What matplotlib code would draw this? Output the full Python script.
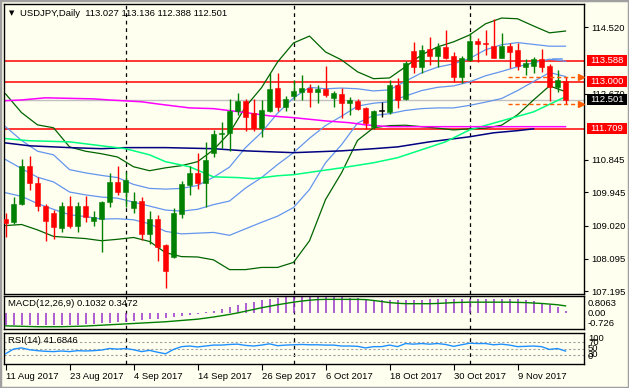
import matplotlib
matplotlib.use("Agg")
import matplotlib.pyplot as plt
from matplotlib.patches import Rectangle

plt.rcParams['font.family'] = ['Liberation Sans', 'DejaVu Sans']

# ===== data =====
opens = [109.21, 109.13, 109.63, 110.68, 110.21, 109.57, 109.38, 108.96, 109.57, 109.02,
         109.57, 109.16, 109.21, 109.68, 110.24, 109.96, 109.52, 109.71, 108.80, 109.21,
         108.47, 108.16, 109.35, 110.15, 110.48, 110.21, 111.04, 111.56, 111.59, 112.20,
         112.48, 112.14, 111.73, 112.20, 112.84, 112.31, 112.61, 112.73, 112.84, 112.73,
         112.81, 112.56, 112.67, 112.42, 112.48, 112.28, 111.76, 112.20, 112.17, 112.92,
         112.53, 113.86, 113.42, 113.92, 113.72, 113.97, 113.72, 113.14, 113.61, 114.14,
         114.08, 114.00, 113.67, 114.00, 113.89, 113.42, 113.44, 113.64, 113.44, 112.86,
         113.027]
highs = [109.38, 109.82, 110.87, 110.96, 110.37, 109.63, 109.46, 109.68, 109.85, 109.66,
         109.85, 109.41, 109.70, 110.48, 110.68, 110.51, 109.96, 109.82, 109.41, 109.30,
         108.52, 109.52, 110.26, 110.68, 111.04, 111.34, 111.67, 111.90, 112.53, 112.70,
         112.53, 112.53, 112.50, 113.25, 113.25, 112.61, 113.06, 113.20, 112.95, 112.92,
         113.44, 112.75, 112.84, 112.59, 112.53, 112.31, 112.23, 112.45, 113.06, 113.11,
         113.58, 114.11, 114.03, 114.25, 114.08, 114.44, 113.83, 113.72, 114.36, 114.22,
         114.44, 114.74, 114.36, 114.08, 114.08, 113.64, 113.69, 113.91, 113.50, 113.33,
         113.136]
lows = [108.71, 109.05, 109.60, 110.01, 109.43, 108.60, 108.66, 108.85, 108.94, 108.85,
        109.13, 109.02, 108.30, 109.54, 109.88, 109.54, 109.38, 108.63, 108.52, 108.05,
        107.30, 108.11, 109.24, 109.88, 110.04, 109.54, 110.93, 111.18, 111.09, 112.09,
        111.65, 111.65, 111.48, 112.17, 112.20, 112.20, 112.50, 112.50, 112.31, 112.42,
        112.59, 112.31, 112.01, 112.09, 112.23, 111.70, 111.70, 112.03, 112.12, 112.28,
        112.50, 113.25, 113.25, 113.47, 113.42, 113.64, 113.00, 112.97, 113.58, 113.55,
        113.75, 113.67, 113.67, 113.39, 113.33, 113.20, 113.25, 113.28, 112.48, 112.73,
        112.388]
closes = [109.10, 109.63, 110.68, 110.21, 109.57, 109.16, 108.99, 109.57, 109.02, 109.57,
          109.27, 109.27, 109.68, 110.24, 109.96, 110.29, 109.71, 108.80, 109.21, 108.44,
          107.77, 109.38, 110.18, 110.48, 110.21, 110.84, 111.56, 111.59, 112.20, 112.48,
          112.03, 111.73, 112.23, 112.81, 112.31, 112.53, 112.75, 112.84, 112.73, 112.81,
          112.64, 112.70, 112.42, 112.50, 112.26, 111.87, 112.20, 112.20, 112.92, 112.50,
          113.53, 113.42, 113.89, 113.72, 113.97, 113.67, 113.14, 113.67, 114.14, 114.05,
          114.05, 113.67, 114.00, 113.83, 113.44, 113.53, 113.64, 113.42, 112.86, 113.06,
          112.501]

# Bollinger bands (20, 2) dark green and (20, 1) blue, read every second bar
bb_idx = list(range(0, 71, 2))
bb_upper2 = [112.67, 112.15, 111.81, 111.73, 111.20, 111.08, 111.01, 110.92, 110.65, 110.54,
             110.62, 110.68, 110.79, 111.12, 111.59, 112.31, 112.84, 113.55, 114.08, 114.27,
             113.83, 113.61, 113.28, 113.09, 113.11, 113.42, 113.75, 113.97, 114.11, 114.30,
             114.61, 114.77, 114.75, 114.55, 114.36, 114.41]
bb_upper1 = [111.76, 111.38, 111.08, 110.98, 110.57, 110.48, 110.41, 110.35, 110.16, 110.05,
             110.03, 110.05, 110.13, 110.36, 110.64, 111.18, 111.60, 112.13, 112.56, 112.85,
             112.81, 112.83, 112.81, 112.75, 112.78, 113.02, 113.25, 113.41, 113.50, 113.65,
             113.89, 114.03, 114.09, 114.04, 113.99, 113.99]
bb_mid = [110.85, 110.60, 110.36, 110.23, 109.95, 109.87, 109.81, 109.78, 109.67, 109.56,
          109.45, 109.42, 109.47, 109.60, 109.70, 110.06, 110.35, 110.71, 111.04, 111.44,
          111.79, 112.05, 112.33, 112.41, 112.45, 112.61, 112.76, 112.85, 112.89, 113.00,
          113.17, 113.29, 113.42, 113.53, 113.63, 113.57]
bb_lower1 = [109.93, 109.83, 109.63, 109.47, 109.32, 109.27, 109.20, 109.21, 109.18, 109.07,
             108.86, 108.79, 108.81, 108.83, 108.75, 108.93, 109.11, 109.28, 109.52, 110.02,
             110.76, 111.26, 111.86, 112.07, 112.12, 112.21, 112.26, 112.28, 112.28, 112.35,
             112.44, 112.54, 112.76, 113.01, 113.26, 113.15]
bb_lower2 = [109.02, 109.05, 108.90, 108.72, 108.69, 108.66, 108.60, 108.64, 108.69, 108.58,
             108.27, 108.16, 108.15, 108.07, 107.80, 107.80, 107.86, 107.86, 108.00, 108.60,
             109.74, 110.48, 111.38, 111.73, 111.79, 111.80, 111.76, 111.72, 111.67, 111.70,
             111.72, 111.80, 112.09, 112.50, 112.89, 112.73]

# moving averages
navy_idx = [0, 3, 8, 12, 15, 20, 26, 30, 36, 42, 46, 49, 53, 58, 61, 64, 66]
navy_ma = [111.31, 111.23, 111.18, 111.15, 111.18, 111.18, 111.15, 111.09, 111.04, 111.09,
           111.15, 111.20, 111.34, 111.48, 111.59, 111.65, 111.70]
spring_idx = [0, 3, 8, 12, 15, 18, 20, 23, 26, 29, 31, 34, 36, 42, 46, 49, 52, 55, 58, 62, 66, 70]
spring_ma = [111.43, 111.37, 111.34, 111.23, 111.15, 110.98, 110.79, 110.65, 110.37, 110.35,
             110.32, 110.40, 110.43, 110.62, 110.76, 110.90, 111.12, 111.34, 111.67, 111.92,
             112.17, 112.59]
magenta_idx = [0, 2, 5, 11, 13, 17, 19, 23, 26, 30, 33, 36, 40, 43, 45, 48, 70]
magenta_ma = [112.48, 112.50, 112.56, 112.53, 112.50, 112.45, 112.39, 112.28, 112.26, 112.15,
              112.06, 112.01, 111.92, 111.87, 111.81, 111.76, 111.76]

levels_red = [113.588, 113.000, 111.709]
last_price = 112.501
last_high, last_low = 113.136, 112.388
price_ticks = [114.520, 112.670, 110.845, 109.945, 109.020, 108.095, 107.195]

macd_hist = [-0.55, -0.55, -0.55, -0.55, -0.55, -0.55, -0.55, -0.55, -0.53, -0.52,
             -0.51, -0.48, -0.46, -0.44, -0.41, -0.38, -0.35, -0.32, -0.28, -0.24,
             -0.20, -0.15, -0.10, -0.06, -0.02, 0.05, 0.12, 0.20, 0.30, 0.40,
             0.48, 0.55, 0.62, 0.67, 0.71, 0.74, 0.76, 0.77, 0.77, 0.77,
             0.77, 0.76, 0.75, 0.73, 0.70, 0.66, 0.62, 0.60, 0.60, 0.61,
             0.62, 0.63, 0.64, 0.65, 0.66, 0.66, 0.66, 0.66, 0.67, 0.67,
             0.67, 0.66, 0.66, 0.66, 0.65, 0.62, 0.57, 0.50, 0.40, 0.28, 0.1032]
macd_signal = [-0.58, -0.59, -0.60, -0.61, -0.62, -0.62, -0.62, -0.62, -0.61, -0.60,
               -0.59, -0.57, -0.55, -0.53, -0.51, -0.49, -0.47, -0.45, -0.43, -0.41,
               -0.39, -0.36, -0.33, -0.30, -0.27, -0.22, -0.17, -0.11, -0.05, 0.02,
               0.10, 0.18, 0.26, 0.33, 0.40, 0.46, 0.52, 0.57, 0.61, 0.64,
               0.65, 0.65, 0.65, 0.65, 0.65, 0.64, 0.60, 0.55, 0.50, 0.47,
               0.45, 0.45, 0.45, 0.45, 0.46, 0.48, 0.50, 0.51, 0.52, 0.52,
               0.52, 0.52, 0.52, 0.52, 0.51, 0.50, 0.48, 0.46, 0.43, 0.40, 0.3472]
rsi = [33, 48, 52, 46, 43, 41, 40, 42, 40, 43, 42, 43, 45, 50, 48, 50, 46, 40, 44, 38,
       33, 47, 56, 58, 55, 58, 61, 61, 63, 64, 60, 58, 61, 65, 59, 61, 62, 63, 62, 62,
       61, 61, 58, 58, 57, 52, 56, 56, 61, 56, 66, 64, 66, 64, 66, 63, 57, 62, 67, 66,
       66, 62, 64, 61, 56, 57, 58, 56, 47, 50, 41.6846]

date_idx = [0, 8, 16, 24, 32, 40, 48, 56, 64]
date_labels = ["11 Aug 2017", "23 Aug 2017", "4 Sep 2017", "14 Sep 2017", "26 Sep 2017",
               "6 Oct 2017", "18 Oct 2017", "30 Oct 2017", "9 Nov 2017"]
month_starts = [15, 36, 58]

# ===== figure =====
W, H = 629, 388
BG = "#FFFFF0"
FS = 6.8
fig = plt.figure(figsize=(W / 100, H / 100), dpi=100, facecolor=BG)


def box(x0, y0, x1, y1):
    return [x0 / W, 1 - y1 / H, (x1 - x0) / W, (y1 - y0) / H]


ax = fig.add_axes(box(4, 4, 584, 293.5))
axm = fig.add_axes(box(4, 296, 584, 329))
axr = fig.add_axes(box(4, 333, 584, 364))

xlim = (-0.19, 72.31)
for a in (ax, axm, axr):
    a.set_facecolor(BG)
    a.set_xlim(*xlim)
    for s in a.spines.values():
        s.set_color("black")
        s.set_linewidth(1)
    for m in month_starts:
        a.axvline(m, color="black", lw=0.9, ls=(0, (3, 3)), zorder=1)

# ----- main panel -----
ax.set_ylim(107.138, 115.159)
n = len(closes)
x = list(range(n))

for lv in levels_red:
    ax.axhline(lv, color="red", lw=1.1, zorder=1.5)
ax.axhline(last_price, color="#C0C0C0", lw=1, zorder=1.4)

lw = 0.9
ax.plot(bb_idx, bb_upper2, color="#006400", lw=lw, zorder=2)
ax.plot(bb_idx, bb_lower2, color="#006400", lw=lw, zorder=2)
ax.plot(bb_idx, bb_upper1, color="#6495ED", lw=lw, zorder=2)
ax.plot(bb_idx, bb_mid, color="#6495ED", lw=lw, zorder=2)
ax.plot(bb_idx, bb_lower1, color="#6495ED", lw=lw, zorder=2)
ax.plot(navy_idx, navy_ma, color="#000080", lw=1.1, zorder=2)
ax.plot(spring_idx, spring_ma, color="#00FF7F", lw=1.1, zorder=2)
ax.plot(magenta_idx, magenta_ma, color="#FF00FF", lw=1.1, zorder=2)
ax.plot([68.4, 69.6], [113.63, 113.63], color="#6495ED", lw=1.1, zorder=2)

colors = []
for o, c in zip(opens, closes):
    if c > o:
        colors.append("#008000")
    elif c < o:
        colors.append("#FF0000")
    else:
        colors.append("black")
ax.vlines(x, lows, highs, colors=colors, lw=1, zorder=3)
bottoms = [min(o, c) for o, c in zip(opens, closes)]
heights = [max(abs(c - o), 0.012) for o, c in zip(opens, closes)]
ax.bar(x, heights, bottom=bottoms, width=0.62, color=colors, edgecolor=colors,
       linewidth=0.4, zorder=4)

# high / low markers of the current bar
for lv in (last_high, last_low):
    ax.plot([62.8, 71.6], [lv, lv], color="#FF5A00", lw=1, ls=(0, (3, 2)), zorder=5)
    ax.plot([71.9], [lv], marker=">", color="#FF5A00", ms=4.5, zorder=5, clip_on=False)

ax.set_xticks([])
ax.yaxis.tick_right()
ax.set_yticks(price_ticks)
ax.set_yticklabels([f"{t:.3f}" for t in price_ticks])
ax.tick_params(axis="y", direction="out", length=3, width=0.8, labelsize=FS, pad=2,
               colors="black")

# price boxes on the right scale
ytr = ax.get_yaxis_transform()
box_x0, box_w = (587 - 4) / 580, 40 / 580
box_h = 11 / 36.16
boxed = [(lv, "red") for lv in levels_red] + [(last_price, "black")]
for lv, fc in boxed:
    ax.add_patch(Rectangle((box_x0, lv - box_h / 2), box_w, box_h, transform=ytr,
                           fc=fc, ec="none", clip_on=False, zorder=9))
    ax.text(box_x0 + box_w / 2, lv, f"{lv:.3f}", transform=ytr, fontsize=FS, color="white",
            va="center", ha="center", clip_on=False, zorder=10)

fig.text(9 / W, 1 - 13 / H, "\u25BC", fontsize=5, va="center", ha="left", color="black",
         family="DejaVu Sans")
fig.text(20 / W, 1 - 13 / H, "USDJPY,Daily  113.027 113.136 112.388 112.501",
         fontsize=FS, va="center", ha="left", color="black")

# ----- MACD panel -----
axm.set_ylim(-0.726, 0.8063)
axm.vlines(x, 0, macd_hist, color="#9932CC", lw=1.1, zorder=2)
axm.plot(x, macd_signal, color="#008000", lw=1, zorder=3)
axm.set_xticks([])
axm.set_yticks([])
axm.text(1.007, 0.76, "0.8063", transform=axm.transAxes, fontsize=FS, va="center",
         ha="left", clip_on=False)
axm.text(1.007, 0.46, "0.00", transform=axm.transAxes, fontsize=FS, va="center",
         ha="left", clip_on=False)
axm.text(1.007, 0.18, "-0.726", transform=axm.transAxes, fontsize=FS, va="center",
         ha="left", clip_on=False)
axm.text(0.007, 0.78, "MACD(12,26,9) 0.1032 0.3472", transform=axm.transAxes, fontsize=FS,
         va="center", ha="left")

# ----- RSI panel -----
axr.set_ylim(0, 100)
for lv in (70, 50, 30):
    axr.axhline(lv, color="#A0A0A0", lw=0.8, ls=(0, (2, 2)), zorder=1)
axr.plot(x, rsi, color="#1E90FF", lw=1, zorder=3)
axr.set_yticks([])
rtr = axr.get_yaxis_transform()
axr.text(1.007, 0.81, "100", transform=axr.transAxes, fontsize=FS, va="center", ha="left",
         clip_on=False)
for lv in (70, 50, 30):
    axr.text(1.007, lv, str(lv), transform=rtr, fontsize=FS, va="center", ha="left",
             clip_on=False)
axr.text(1.007, 0.23, "0", transform=axr.transAxes, fontsize=FS, va="center", ha="left",
         clip_on=False)
axr.text(0.007, 0.77, "RSI(14) 41.6846", transform=axr.transAxes, fontsize=FS,
         va="center", ha="left")

axr.set_xticks(date_idx)
axr.set_xticklabels(date_labels)
for lab in axr.get_xticklabels():
    lab.set_horizontalalignment("left")
axr.tick_params(axis="x", direction="out", length=4, width=0.8, labelsize=FS, pad=2)

# window frame
fig.patches.append(Rectangle((0, 0), 1, 1, transform=fig.transFigure, fill=False,
                             ec="#A0A0A0", lw=2.5))

fig.savefig("out.png", dpi=100, facecolor=BG)
